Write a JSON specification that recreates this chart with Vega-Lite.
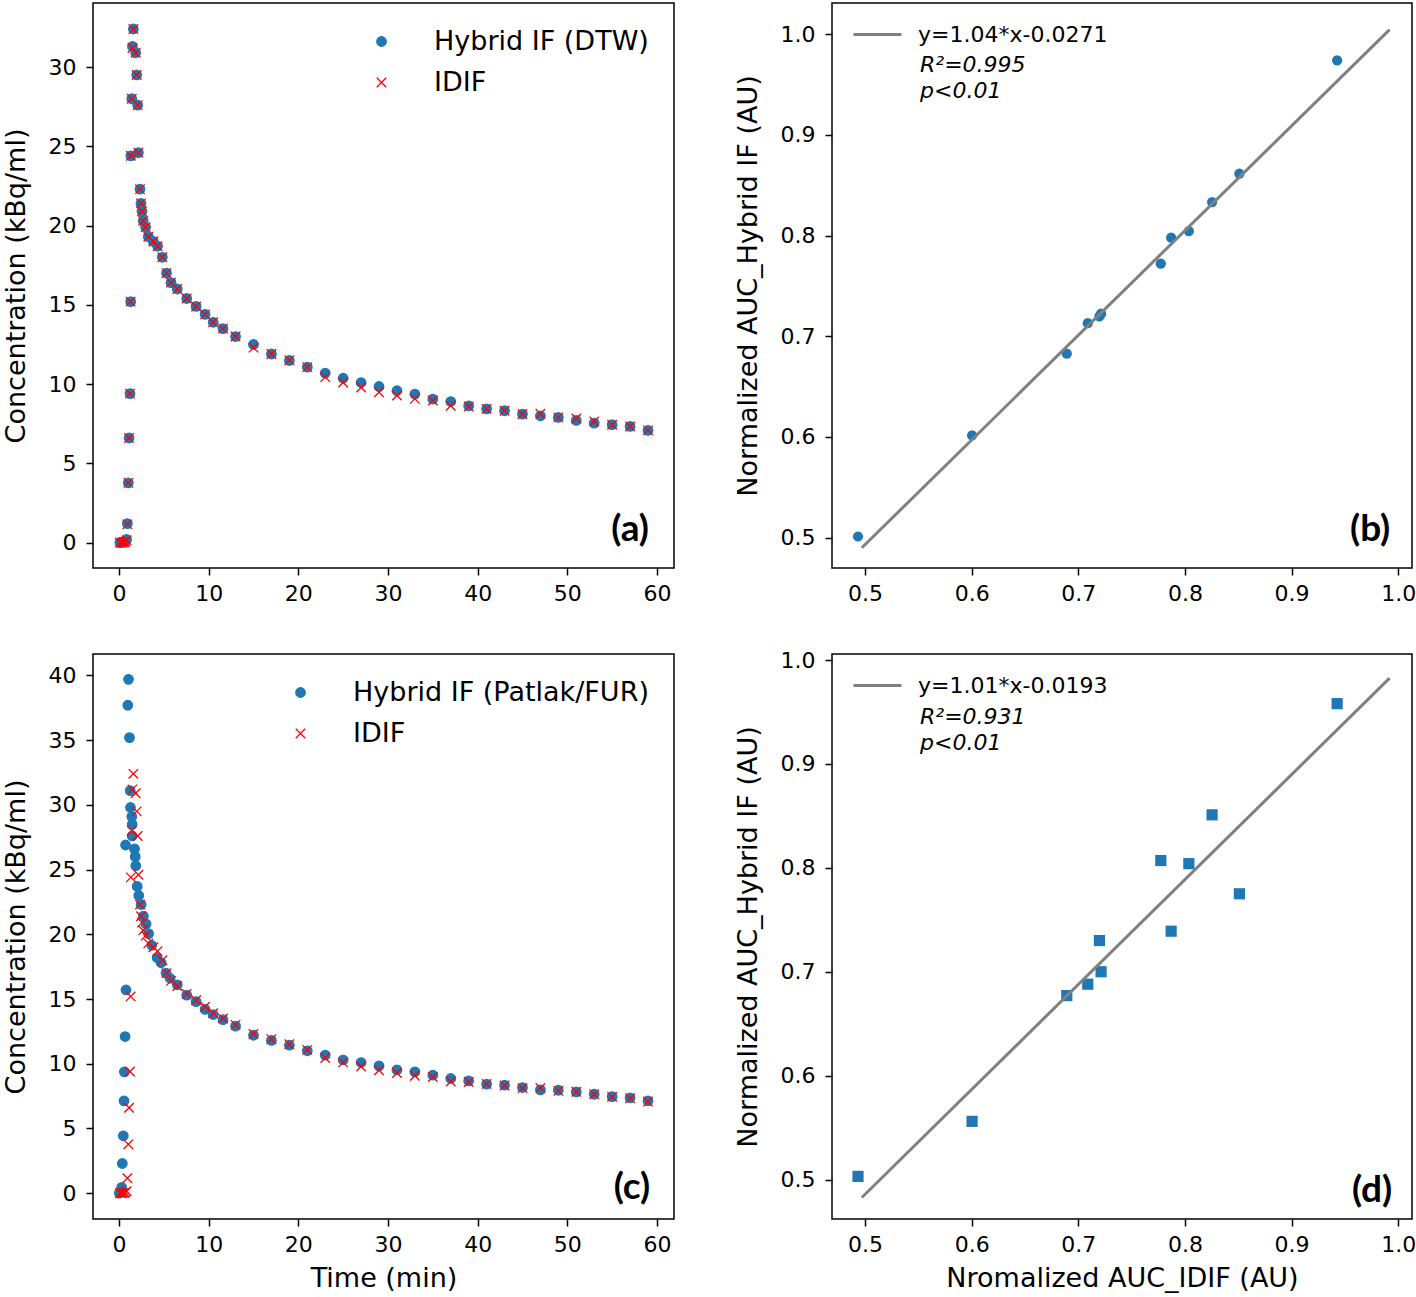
{
  "$schema": "https://vega.github.io/schema/vega-lite/v6.json",
  "background": "white",
  "padding": {"left": 1, "top": 2, "right": 0, "bottom": 2},
  "datasets": {
    "idif": [
      {"t":0.1,"c":0},{"t":0.25,"c":0},{"t":0.4,"c":0},{"t":0.55,"c":0.02},{"t":0.7,"c":0.05},{"t":0.85,"c":0.15},
      {"t":0.93,"c":1.15},{"t":1.04,"c":3.77},{"t":1.12,"c":6.6},{"t":1.23,"c":9.4},{"t":1.3,"c":15.2},{"t":1.32,"c":24.4},
      {"t":1.42,"c":28.0},{"t":1.5,"c":31.2},{"t":1.6,"c":32.4},{"t":1.86,"c":30.9},{"t":1.97,"c":29.5},{"t":2.08,"c":27.6},
      {"t":2.16,"c":24.6},{"t":2.34,"c":22.3},{"t":2.45,"c":21.4},{"t":2.56,"c":20.9},{"t":2.7,"c":20.3},{"t":2.97,"c":19.9},
      {"t":3.27,"c":19.3},{"t":3.83,"c":19.0},{"t":4.3,"c":18.7},{"t":4.83,"c":18.0},{"t":5.3,"c":17.0},{"t":5.8,"c":16.4},
      {"t":6.5,"c":16.0},{"t":7.55,"c":15.4},{"t":8.6,"c":14.9},{"t":9.6,"c":14.4},{"t":10.5,"c":13.9},{"t":11.6,"c":13.5},
      {"t":13,"c":13.0},{"t":15,"c":12.3},{"t":17,"c":11.9},{"t":19,"c":11.5},{"t":21,"c":11.07},{"t":23,"c":10.44},
      {"t":25,"c":10.1},{"t":27,"c":9.79},{"t":29,"c":9.49},{"t":31,"c":9.28},{"t":33,"c":9.07},{"t":35,"c":8.97},
      {"t":37,"c":8.63},{"t":39,"c":8.59},{"t":41,"c":8.44},{"t":43,"c":8.32},{"t":45,"c":8.11},{"t":47,"c":8.13},
      {"t":49,"c":7.9},{"t":51,"c":7.83},{"t":53,"c":7.64},{"t":55,"c":7.44},{"t":57,"c":7.33},{"t":59,"c":7.08}
    ],
    "dtw": [
      {"t":0.1,"c":0},{"t":0.25,"c":0},{"t":0.4,"c":0.05},{"t":0.55,"c":0.05},{"t":0.7,"c":0.1},{"t":0.85,"c":0.2},
      {"t":0.93,"c":1.2},{"t":1.04,"c":3.77},{"t":1.12,"c":6.6},{"t":1.23,"c":9.4},{"t":1.3,"c":15.2},{"t":1.32,"c":24.4},
      {"t":1.42,"c":28.0},{"t":1.5,"c":31.3},{"t":1.6,"c":32.4},{"t":1.86,"c":30.9},{"t":1.97,"c":29.5},{"t":2.08,"c":27.6},
      {"t":2.16,"c":24.6},{"t":2.34,"c":22.3},{"t":2.45,"c":21.4},{"t":2.56,"c":20.9},{"t":2.7,"c":20.3},{"t":2.97,"c":19.9},
      {"t":3.27,"c":19.3},{"t":3.83,"c":19.0},{"t":4.3,"c":18.7},{"t":4.83,"c":18.0},{"t":5.3,"c":17.0},{"t":5.8,"c":16.4},
      {"t":6.5,"c":16.0},{"t":7.55,"c":15.4},{"t":8.6,"c":14.9},{"t":9.6,"c":14.4},{"t":10.5,"c":13.9},{"t":11.6,"c":13.5},
      {"t":13,"c":13.0},{"t":15,"c":12.5},{"t":17,"c":11.9},{"t":19,"c":11.49},{"t":21,"c":11.07},{"t":23,"c":10.69},
      {"t":25,"c":10.37},{"t":27,"c":10.1},{"t":29,"c":9.85},{"t":31,"c":9.58},{"t":33,"c":9.37},{"t":35,"c":9.05},
      {"t":37,"c":8.9},{"t":39,"c":8.63},{"t":41,"c":8.44},{"t":43,"c":8.32},{"t":45,"c":8.11},{"t":47,"c":8.0},
      {"t":49,"c":7.9},{"t":51,"c":7.71},{"t":53,"c":7.54},{"t":55,"c":7.44},{"t":57,"c":7.33},{"t":59,"c":7.08}
    ],
    "patlak": [
      {"t":0.03,"c":0},{"t":0.15,"c":0.05},{"t":0.3,"c":0.44},{"t":0.37,"c":2.29},{"t":0.48,"c":4.43},{"t":0.56,"c":7.13},
      {"t":0.6,"c":9.37},{"t":0.68,"c":12.1},{"t":0.78,"c":15.7},{"t":0.73,"c":26.9},{"t":0.98,"c":37.7},{"t":1.06,"c":39.7},
      {"t":1.17,"c":35.2},{"t":1.25,"c":31.1},{"t":1.28,"c":29.8},{"t":1.43,"c":29.1},{"t":1.47,"c":28.5},{"t":1.47,"c":27.6},
      {"t":1.73,"c":26.6},{"t":1.81,"c":26.0},{"t":1.87,"c":25.3},{"t":2.03,"c":23.7},{"t":2.2,"c":23.0},{"t":2.47,"c":22.3},
      {"t":2.72,"c":21.4},{"t":3.02,"c":20.8},{"t":3.3,"c":20.05},{"t":3.65,"c":19.15},{"t":4.25,"c":18.2},{"t":4.7,"c":17.8},
      {"t":5.25,"c":17.0},{"t":5.7,"c":16.6},{"t":6.5,"c":16.1},{"t":7.55,"c":15.3},{"t":8.6,"c":14.8},{"t":9.6,"c":14.2},
      {"t":10.5,"c":13.8},{"t":11.6,"c":13.4},{"t":13,"c":12.9},{"t":15,"c":12.2},{"t":17,"c":11.8},{"t":19,"c":11.43},
      {"t":21,"c":11.0},{"t":23,"c":10.66},{"t":25,"c":10.29},{"t":27,"c":10.09},{"t":29,"c":9.83},{"t":31,"c":9.52},
      {"t":33,"c":9.37},{"t":35,"c":9.11},{"t":37,"c":8.86},{"t":39,"c":8.67},{"t":41,"c":8.42},{"t":43,"c":8.34},
      {"t":45,"c":8.16},{"t":47,"c":7.98},{"t":49,"c":7.95},{"t":51,"c":7.82},{"t":53,"c":7.64},{"t":55,"c":7.46},
      {"t":57,"c":7.36},{"t":59,"c":7.13}
    ],
    "auc": [
      {"idif":0.4934,"dtw":0.501,"patlak":0.503},
      {"idif":0.6004,"dtw":0.6014,"patlak":0.556},
      {"idif":0.6892,"dtw":0.6826,"patlak":0.677},
      {"idif":0.7089,"dtw":0.713,"patlak":0.688},
      {"idif":0.7198,"dtw":0.7197,"patlak":0.730},
      {"idif":0.7214,"dtw":0.7224,"patlak":0.700},
      {"idif":0.7774,"dtw":0.7721,"patlak":0.807},
      {"idif":0.7871,"dtw":0.7979,"patlak":0.739},
      {"idif":0.8037,"dtw":0.8045,"patlak":0.804},
      {"idif":0.8255,"dtw":0.8333,"patlak":0.851},
      {"idif":0.8511,"dtw":0.8615,"patlak":0.775},
      {"idif":0.9428,"dtw":0.9742,"patlak":0.958}
    ],
    "fit_b": [{"x":0.497,"y":0.4898},{"x":0.992,"y":1.0046}],
    "fit_d": [{"x":0.497,"y":0.4827},{"x":0.992,"y":0.9826}]
  },
  "columns": 2,
  "bounds": "flush",
  "spacing": {"row": 86, "column": 158},
  "concat": [
    {
      "width": 581, "height": 565,
      "layer": [
        {
          "data": {"name": "dtw"},
          "mark": {"type": "point", "filled": true, "opacity": 1, "strokeWidth": 1.3, "size": 90},
          "encoding": {
            "x": {"field": "t", "type": "quantitative", "scale": {"domain": [-2.9, 61.9], "nice": false, "zero": false}, "axis": {"values": [0,10,20,30,40,50,60], "title": null}},
            "y": {"field": "c", "type": "quantitative", "scale": {"domain": [-1.6, 34.04], "nice": false, "zero": false}, "axis": {"values": [0,5,10,15,20,25,30], "title": "Concentration (kBq/ml)"}},
            "fill": {"datum": "Hybrid IF (DTW)", "type": "nominal", "scale": {"domain": ["Hybrid IF (DTW)", "IDIF"], "range": ["#1f77b4", "#ff0000"]}},
            "stroke": {"datum": "Hybrid IF (DTW)", "type": "nominal", "scale": {"domain": ["Hybrid IF (DTW)", "IDIF"], "range": ["#1f77b4", "#ff0000"]}},
            "shape": {"datum": "Hybrid IF (DTW)", "type": "nominal", "scale": {"domain": ["Hybrid IF (DTW)", "IDIF"], "range": ["circle", "M-1,-1L1,1M1,-1L-1,1"]}}
          }
        },
        {
          "data": {"name": "idif"},
          "mark": {"type": "point", "filled": true, "opacity": 1, "strokeWidth": 1.3, "size": 90},
          "encoding": {
            "x": {"field": "t", "type": "quantitative"},
            "y": {"field": "c", "type": "quantitative"},
            "fill": {"datum": "IDIF", "type": "nominal"},
            "stroke": {"datum": "IDIF", "type": "nominal"},
            "shape": {"datum": "IDIF", "type": "nominal"}
          }
        },
        {
          "data": {"values": [{"label": "(a)"}]},
          "mark": {"type": "text", "font": "Lato", "fontWeight": "bold", "fontSize": 37, "align": "center", "baseline": "middle", "color": "black"},
          "encoding": {"x": {"datum": 57.0}, "y": {"datum": 0.77}, "text": {"field": "label"}}
        }
      ]
    },
    {
      "width": 580, "height": 565,
      "layer": [
        {
          "data": {"name": "auc"},
          "mark": {"type": "point", "filled": true, "shape": "circle", "size": 105, "color": "#1f77b4", "opacity": 1},
          "encoding": {
            "x": {"field": "idif", "type": "quantitative", "scale": {"domain": [0.469, 1.013], "nice": false, "zero": false}, "axis": {"values": [0.5,0.6,0.7,0.8,0.9,1.0], "format": ".1f", "title": null}},
            "y": {"field": "dtw", "type": "quantitative", "scale": {"domain": [0.4697, 1.0311], "nice": false, "zero": false}, "axis": {"values": [0.5,0.6,0.7,0.8,0.9,1.0], "format": ".1f", "title": "Normalized AUC_Hybrid IF (AU)"}}
          }
        },
        {
          "data": {"name": "fit_b"},
          "mark": {"type": "line", "strokeWidth": 3},
          "encoding": {
            "x": {"field": "x", "type": "quantitative"},
            "y": {"field": "y", "type": "quantitative"},
            "color": {"datum": "y=1.04*x-0.0271", "type": "nominal", "scale": {"range": ["#808080"]},
              "legend": {"title": null, "orient": "none", "legendX": 20, "legendY": 6, "padding": 0, "labelFontSize": 22, "symbolType": "stroke", "symbolSize": 2304, "symbolStrokeWidth": 3, "labelOffset": 15}}
          }
        },
        {
          "data": {"values": [{"label": "R²=0.995"}]},
          "mark": {"type": "text", "fontStyle": "italic", "fontSize": 22, "align": "left", "baseline": "middle", "color": "black"},
          "encoding": {"x": {"datum": 0.5516}, "y": {"datum": 0.9692}, "text": {"field": "label"}}
        },
        {
          "data": {"values": [{"label": "p<0.01"}]},
          "mark": {"type": "text", "fontStyle": "italic", "fontSize": 22, "align": "left", "baseline": "middle", "color": "black"},
          "encoding": {"x": {"datum": 0.5516}, "y": {"datum": 0.9433}, "text": {"field": "label"}}
        },
        {
          "data": {"values": [{"label": "(b)"}]},
          "mark": {"type": "text", "font": "Lato", "fontWeight": "bold", "fontSize": 37, "align": "center", "baseline": "middle", "color": "black"},
          "encoding": {"x": {"datum": 0.9737}, "y": {"datum": 0.507}, "text": {"field": "label"}}
        }
      ]
    },
    {
      "width": 581, "height": 565,
      "layer": [
        {
          "data": {"name": "patlak"},
          "mark": {"type": "point", "filled": true, "opacity": 1, "strokeWidth": 1.3, "size": 90},
          "encoding": {
            "x": {"field": "t", "type": "quantitative", "scale": {"domain": [-2.9, 61.9], "nice": false, "zero": false}, "axis": {"values": [0,10,20,30,40,50,60], "title": "Time (min)"}},
            "y": {"field": "c", "type": "quantitative", "scale": {"domain": [-2.0, 41.66], "nice": false, "zero": false}, "axis": {"values": [0,5,10,15,20,25,30,35,40], "title": "Concentration (kBq/ml)"}},
            "fill": {"datum": "Hybrid IF (Patlak/FUR)", "type": "nominal", "scale": {"domain": ["Hybrid IF (Patlak/FUR)", "IDIF"], "range": ["#1f77b4", "#ff0000"]}},
            "stroke": {"datum": "Hybrid IF (Patlak/FUR)", "type": "nominal", "scale": {"domain": ["Hybrid IF (Patlak/FUR)", "IDIF"], "range": ["#1f77b4", "#ff0000"]}},
            "shape": {"datum": "Hybrid IF (Patlak/FUR)", "type": "nominal", "scale": {"domain": ["Hybrid IF (Patlak/FUR)", "IDIF"], "range": ["circle", "M-1,-1L1,1M1,-1L-1,1"]}}
          }
        },
        {
          "data": {"name": "idif"},
          "mark": {"type": "point", "filled": true, "opacity": 1, "strokeWidth": 1.3, "size": 90},
          "encoding": {
            "x": {"field": "t", "type": "quantitative"},
            "y": {"field": "c", "type": "quantitative"},
            "fill": {"datum": "IDIF", "type": "nominal"},
            "stroke": {"datum": "IDIF", "type": "nominal"},
            "shape": {"datum": "IDIF", "type": "nominal"}
          }
        },
        {
          "data": {"values": [{"label": "(c)"}]},
          "mark": {"type": "text", "font": "Lato", "fontWeight": "bold", "fontSize": 37, "align": "center", "baseline": "middle", "color": "black"},
          "encoding": {"x": {"datum": 57.2}, "y": {"datum": 0.42}, "text": {"field": "label"}}
        }
      ]
    },
    {
      "width": 580, "height": 565,
      "layer": [
        {
          "data": {"name": "auc"},
          "mark": {"type": "point", "filled": true, "shape": "square", "size": 125, "color": "#1f77b4", "opacity": 1},
          "encoding": {
            "x": {"field": "idif", "type": "quantitative", "scale": {"domain": [0.469, 1.013], "nice": false, "zero": false}, "axis": {"values": [0.5,0.6,0.7,0.8,0.9,1.0], "format": ".1f", "title": "Nromalized AUC_IDIF (AU)"}},
            "y": {"field": "patlak", "type": "quantitative", "scale": {"domain": [0.462, 1.0058], "nice": false, "zero": false}, "axis": {"values": [0.5,0.6,0.7,0.8,0.9,1.0], "format": ".1f", "title": "Normalized AUC_Hybrid IF (AU)"}}
          }
        },
        {
          "data": {"name": "fit_d"},
          "mark": {"type": "line", "strokeWidth": 3},
          "encoding": {
            "x": {"field": "x", "type": "quantitative"},
            "y": {"field": "y", "type": "quantitative"},
            "color": {"datum": "y=1.01*x-0.0193", "type": "nominal", "scale": {"range": ["#808080"]},
              "legend": {"title": null, "orient": "none", "legendX": 20, "legendY": 6, "padding": 0, "labelFontSize": 22, "symbolType": "stroke", "symbolSize": 2304, "symbolStrokeWidth": 3, "labelOffset": 15}}
          }
        },
        {
          "data": {"values": [{"label": "R²=0.931"}]},
          "mark": {"type": "text", "fontStyle": "italic", "fontSize": 22, "align": "left", "baseline": "middle", "color": "black"},
          "encoding": {"x": {"datum": 0.5516}, "y": {"datum": 0.9452}, "text": {"field": "label"}}
        },
        {
          "data": {"values": [{"label": "p<0.01"}]},
          "mark": {"type": "text", "fontStyle": "italic", "fontSize": 22, "align": "left", "baseline": "middle", "color": "black"},
          "encoding": {"x": {"datum": 0.5516}, "y": {"datum": 0.9202}, "text": {"field": "label"}}
        },
        {
          "data": {"values": [{"label": "(d)"}]},
          "mark": {"type": "text", "font": "Lato", "fontWeight": "bold", "fontSize": 37, "align": "center", "baseline": "middle", "color": "black"},
          "encoding": {"x": {"datum": 0.9756}, "y": {"datum": 0.4885}, "text": {"field": "label"}}
        }
      ]
    }
  ],
  "resolve": {
    "scale": {"x": "independent", "y": "independent", "fill": "independent", "stroke": "independent", "shape": "independent", "color": "independent"},
    "legend": {"fill": "independent", "stroke": "independent", "shape": "independent", "color": "independent"}
  },
  "config": {
    "font": "DejaVu Sans",
    "view": {"stroke": "black", "strokeWidth": 1.5},
    "axis": {
      "grid": false, "domain": false, "tickColor": "black", "tickSize": 7, "tickWidth": 1.5,
      "labelColor": "black", "labelFontSize": 22, "labelFont": "DejaVu Sans", "labelOverlap": false, "labelFlush": false,
      "titleColor": "black", "titleFontSize": 27, "titleFont": "DejaVu Sans", "titleFontWeight": "normal"
    },
    "axisX": {"labelPadding": 8, "titlePadding": 10},
    "axisY": {"labelPadding": 10, "titlePadding": 18},
    "legend": {
      "title": null, "orient": "top-right", "offset": 25, "padding": 0, "labelFontSize": 27, "labelFont": "DejaVu Sans",
      "labelColor": "black", "labelOffset": 39, "rowPadding": 13, "symbolSize": 90, "symbolStrokeWidth": 1.3, "labelLimit": 0
    }
  }
}
